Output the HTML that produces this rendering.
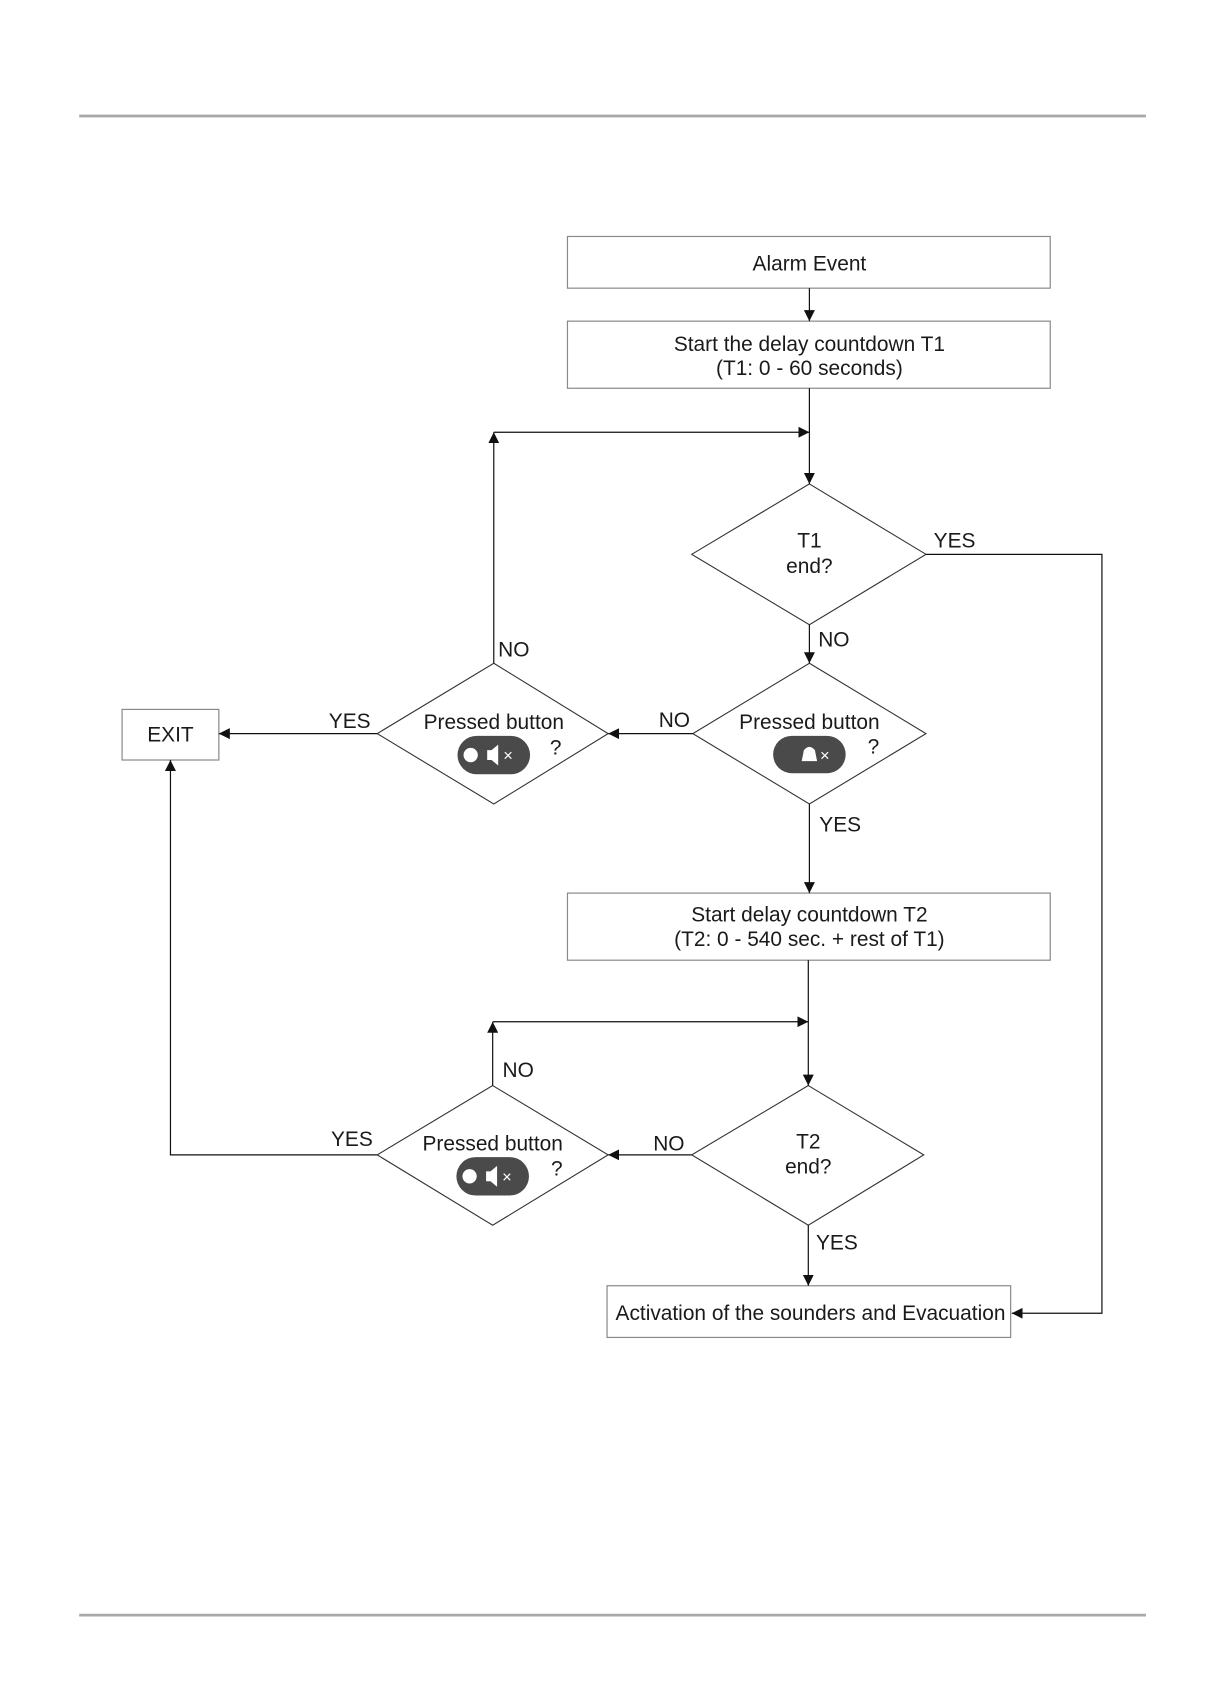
<!DOCTYPE html>
<html><head><meta charset="utf-8"><style>
html,body{margin:0;padding:0;background:#fff;}
svg{display:block;}
text{font-family:"Liberation Sans",Arial,sans-serif;font-size:19px;fill:#1a1a1a;}
</style></head><body>
<svg width="1213" height="1707" viewBox="0 0 1103 1552" preserveAspectRatio="none" xmlns="http://www.w3.org/2000/svg">
<defs>
<marker id="a" viewBox="0 0 10 10" refX="10" refY="5" markerWidth="10" markerHeight="10" markerUnits="userSpaceOnUse" orient="auto"><path d="M0,0 L10,5 L0,10 z" fill="#111"/></marker>
</defs>
<rect x="0" y="0" width="1103" height="1552" fill="#fff"/>
<line x1="72" y1="105.5" x2="1042" y2="105.5" stroke="#a8a8a8" stroke-width="2.5"/>
<line x1="72" y1="1468.5" x2="1042" y2="1468.5" stroke="#a8a8a8" stroke-width="2.5"/>

<g fill="#fff" stroke="#8a8a8a" stroke-width="1.1">
<rect x="516" y="215" width="439" height="47"/>
<rect x="516" y="292" width="439" height="61"/>
<rect x="111" y="645" width="88" height="46"/>
<rect x="516" y="812" width="439" height="61"/>
<rect x="552" y="1169" width="367" height="47"/>
</g>
<g fill="#fff" stroke="#333" stroke-width="1">
<polygon points="736,440 842,504 736,568 629,504"/>
<polygon points="736,603 842,667 736,731 630,667"/>
<polygon points="449,603 553,667 449,731 343,667"/>
<polygon points="735,987 840,1050 735,1114 629,1050"/>
<polygon points="448,987 553,1050 448,1114 343,1050"/>
</g>
<g stroke="#111" stroke-width="1.1" fill="none">
<line x1="736" y1="262" x2="736" y2="292" marker-end="url(#a)"/>
<line x1="736" y1="353" x2="736" y2="440" marker-end="url(#a)"/>
<line x1="449" y1="393" x2="736" y2="393" marker-end="url(#a)"/>
<line x1="449" y1="603" x2="449" y2="393" marker-end="url(#a)"/>
<polyline points="842,504 1002,504 1002,1194 920,1194" marker-end="url(#a)"/>
<line x1="736" y1="568" x2="736" y2="603" marker-end="url(#a)"/>
<line x1="630" y1="667" x2="553" y2="667" marker-end="url(#a)"/>
<line x1="343" y1="667" x2="199" y2="667" marker-end="url(#a)"/>
<line x1="736" y1="731" x2="736" y2="812" marker-end="url(#a)"/>
<line x1="735" y1="873" x2="735" y2="987" marker-end="url(#a)"/>
<line x1="448" y1="929" x2="735" y2="929" marker-end="url(#a)"/>
<line x1="448" y1="987" x2="448" y2="929" marker-end="url(#a)"/>
<line x1="629" y1="1050" x2="553" y2="1050" marker-end="url(#a)"/>
<polyline points="343,1050 155,1050 155,691" marker-end="url(#a)"/>
<line x1="735" y1="1114" x2="735" y2="1169" marker-end="url(#a)"/>
</g>
<g text-anchor="middle">
<text x="736" y="246">Alarm Event</text>
<text x="736" y="319">Start the delay countdown T1</text>
<text x="736" y="341">(T1: 0 - 60 seconds)</text>
<text x="736" y="498">T1</text>
<text x="736" y="521">end?</text>
<text x="736" y="663">Pressed button</text>
<text x="449" y="663">Pressed button</text>
<text x="155" y="674">EXIT</text>
<text x="736" y="838">Start delay countdown T2</text>
<text x="736" y="860">(T2: 0 - 540 sec. + rest of T1)</text>
<text x="735" y="1044">T2</text>
<text x="735" y="1067">end?</text>
<text x="448" y="1046">Pressed button</text>
<text x="737" y="1200">Activation of the sounders and Evacuation</text>
</g>
<g>
<text x="849" y="498">YES</text>
<text x="744" y="588">NO</text>
<text x="599" y="661">NO</text>
<text x="453" y="597">NO</text>
<text x="299" y="662">YES</text>
<text x="745" y="756">YES</text>
<text x="457" y="979">NO</text>
<text x="594" y="1046">NO</text>
<text x="301" y="1042">YES</text>
<text x="742" y="1136">YES</text>
<text x="789" y="685">?</text>
<text x="500" y="686">?</text>
<text x="501" y="1069">?</text>
</g>
<g>
<rect x="703" y="669" width="66" height="34" rx="17" fill="#4a4a4a"/>
<path d="M729,692 L731,682 Q736,676 741,682 L743,692 Z" fill="#fff"/>
<text x="750" y="692" style="font-size:15px;fill:#fff" text-anchor="middle">×</text>

<rect x="416" y="669" width="66" height="35" rx="17.5" fill="#4a4a4a"/>
<circle cx="428" cy="686.5" r="6.5" fill="#fff"/>
<path d="M443,682 L447,682 L453,677 L453,696 L447,691 L443,691 Z" fill="#fff"/>
<text x="462" y="692" style="font-size:15px;fill:#fff" text-anchor="middle">×</text>

<rect x="415" y="1052" width="66" height="35" rx="17.5" fill="#4a4a4a"/>
<circle cx="427" cy="1069.5" r="6.5" fill="#fff"/>
<path d="M442,1065 L446,1065 L452,1060 L452,1079 L446,1074 L442,1074 Z" fill="#fff"/>
<text x="461" y="1075" style="font-size:15px;fill:#fff" text-anchor="middle">×</text>
</g>
</svg>
</body></html>
